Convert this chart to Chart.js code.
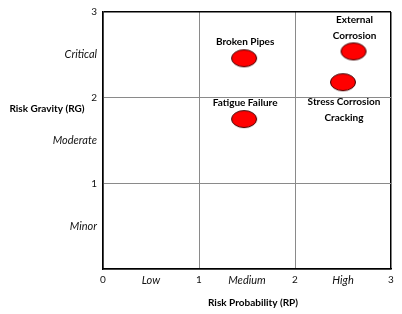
<!DOCTYPE html>
<html>
<head>
<meta charset="utf-8">
<script src="https://cdn.jsdelivr.net/npm/chart.js@4/dist/chart.umd.min.js"></script>
<style>
  body { margin: 0; background: #fff; }
</style>
</head>
<body>
<canvas id="riskChart" width="402" height="314"></canvas>
<script>
// risk matrix data
const riskLabels = [['Broken Pipes'], ['External', 'Corrosion'], ['Stress Corrosion', 'Cracking'], ['Fatigue Failure']];
const riskProbability = [1.47, 2.61, 2.5, 1.47];
const riskGravity = [2.46, 2.54, 2.18, 1.75];
const probabilityLevels = ['Low', 'Medium', 'High'];
const gravityLevels = ['Minor', 'Moderate', 'Critical'];
const axisTicks = [0, 0.5, 1, 1.5, 2, 2.5, 3];

const FONT = 'Lato, "Open Sans", sans-serif';

// red ellipse used as the point marker
function makeEllipse() {
    const c = document.createElement('canvas');
    c.width = 28;
    c.height = 20;
    const g = c.getContext('2d');
    g.beginPath();
    g.ellipse(14, 10, 12.5, 8.5, 0, 0, Math.PI * 2);
    g.fillStyle = '#ff0000';
    g.fill();
    g.lineWidth = 1;
    g.strokeStyle = '#3a0000';
    g.stroke();
    return c;
}

const points = riskProbability.map((x, i) => ({ x: x, y: riskGravity[i] }));

const labelPlugin = {
    id: 'riskText',
    afterDraw(chart) {
        const ctx = chart.ctx;
        const meta = chart.getDatasetMeta(0);
        ctx.save();
        ctx.fillStyle = '#000';
        ctx.textAlign = 'center';
        ctx.textBaseline = 'middle';
        ctx.font = 'bold 10px ' + FONT;
        meta.data.forEach((el, i) => {
            const lines = riskLabels[i];
            const below = i === 2; // stress corrosion label sits under its marker
            lines.forEach((line, k) => {
                let y;
                if (below) {
                    y = el.y + 20 + k * 16;
                } else {
                    y = el.y - 16 - (lines.length - 1 - k) * 16;
                }
                ctx.fillText(line, el.x + 1, y);
            });
        });
        // axis titles
        ctx.fillText('Risk Gravity (RG)', 47, 109);
        ctx.fillText('Risk Probability (RP)', 253, 303);
        ctx.restore();
    }
};

function tickFont(context) {
    const v = context.tick ? context.tick.value : 0;
    if (Number.isInteger(v)) {
        return { family: FONT, size: 10 };
    }
    return { family: FONT, size: 11, style: 'italic' };
}

function gridColor(context) {
    const v = context.tick ? context.tick.value : 0;
    if (!Number.isInteger(v)) return 'rgba(0,0,0,0)';
    if (v === 3) return '#000';
    return '#8a8a8a';
}

function gridWidth(context) {
    const v = context.tick ? context.tick.value : 0;
    return v === 3 ? 1.5 : 1;
}

const ctx = document.getElementById('riskChart').getContext('2d');
const riskChart = new Chart(ctx, {
    type: 'scatter',
    data: {
        datasets: [{
            data: points,
            pointStyle: makeEllipse(),
            pointRadius: 10,
            pointHoverRadius: 10
        }]
    },
    options: {
        responsive: false,
        animation: false,
        events: [],
        layout: {
            padding: { top: 10, right: 10, bottom: 0, left: 0 }
        },
        plugins: {
            legend: { display: false },
            tooltip: { enabled: false }
        },
        scales: {
            x: {
                type: 'linear',
                min: 0,
                max: 3,
                afterBuildTicks: scale => { scale.ticks = axisTicks.map(v => ({ value: v })); },
                afterFit: scale => { scale.height = 45; },
                border: { display: true, color: '#000', width: 1.5 },
                grid: { color: gridColor, lineWidth: gridWidth, drawTicks: false },
                ticks: {
                    autoSkip: false,
                    maxRotation: 0,
                    padding: 5,
                    color: '#111',
                    font: tickFont,
                    callback: value => Number.isInteger(value) ? String(value) : probabilityLevels[Math.floor(value)]
                }
            },
            y: {
                type: 'linear',
                min: 0,
                max: 3,
                afterBuildTicks: scale => { scale.ticks = axisTicks.map(v => ({ value: v })); },
                afterFit: scale => { scale.width = 103; },
                border: { display: true, color: '#000', width: 1.5 },
                grid: { color: gridColor, lineWidth: gridWidth, drawTicks: false },
                ticks: {
                    autoSkip: false,
                    padding: 6,
                    color: '#111',
                    font: tickFont,
                    callback: value => {
                        if (value === 0) return '';
                        return Number.isInteger(value) ? String(value) : gravityLevels[Math.floor(value)];
                    }
                }
            }
        }
    },
    plugins: [labelPlugin]
});
</script>
</body>
</html>
